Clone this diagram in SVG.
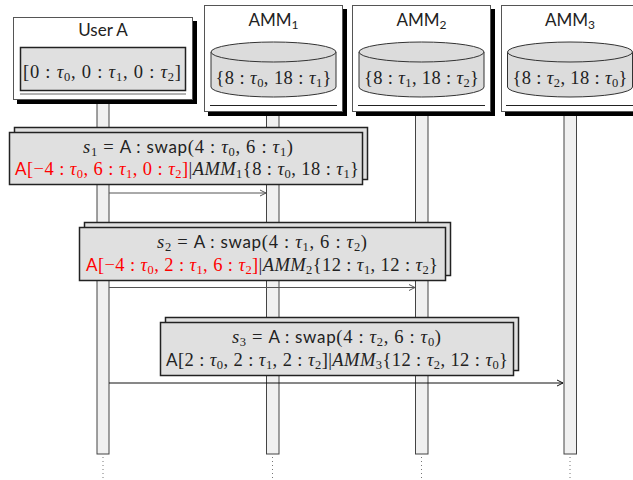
<svg xmlns="http://www.w3.org/2000/svg" width="633" height="480" viewBox="0 0 633 480">
<defs>
<marker id="arr" markerWidth="8" markerHeight="8" refX="7" refY="4" orient="auto" markerUnits="userSpaceOnUse">
<path d="M1,1 L7,4 L1,7" fill="none" stroke="context-stroke" stroke-width="1"/>
</marker>
</defs>
<style>
text{font-family:"Liberation Serif","Times New Roman",serif;font-size:18.5px;fill:#222}
.sf{font-family:Lato,"Open Sans",sans-serif;font-size:17px}
.i{font-style:italic}
.s{font-size:12.5px}
.red{fill:#f00}
.box{fill:#fff;stroke:#555;stroke-width:1}
.shadow{fill:#000}
.life{fill:#f0f0f0;stroke:#444;stroke-width:1}
.dots{stroke:#777;stroke-width:1;stroke-dasharray:1 3}
.msg{fill:#e0e0e0;stroke:#222;stroke-width:1.5}
.cyl{fill:#dcdcdc;stroke:#333;stroke-width:1}
.under{stroke:#222;stroke-width:1}
.conn{stroke:#555;stroke-width:1;fill:none;marker-end:url(#arr)}
.title{font-family:Lato,"Open Sans",sans-serif;font-size:17px;text-anchor:middle}
.title .s{font-size:12px}
</style>

<g id="lifelines">
<rect class="life" x="97" y="100" width="12" height="354"/>
<rect class="life" x="266.5" y="112" width="12.5" height="342"/>
<rect class="life" x="415.5" y="112" width="12.5" height="342"/>
<rect class="life" x="564" y="112" width="12.5" height="342"/>
<line class="dots" x1="103" y1="457" x2="103" y2="480"/>
<line class="dots" x1="272.5" y1="457" x2="272.5" y2="480"/>
<line class="dots" x1="421.5" y1="457" x2="421.5" y2="480"/>
<line class="dots" x1="570" y1="457" x2="570" y2="480"/>
</g>

<g id="userA">
<rect class="shadow" x="17" y="21" width="180" height="83"/>
<rect class="box" x="13.5" y="17.5" width="179" height="82"/>
<text class="title" x="103" y="36">User A</text>
<rect x="20.5" y="47.5" width="165" height="43" fill="#e0e0e0" stroke="#222" stroke-width="1.5"/>
<line x1="20" y1="94" x2="186" y2="94" stroke="#666" stroke-width="1"/>
<text x="102" y="78" text-anchor="middle" textLength="158">[0 : <tspan class="i">τ</tspan><tspan class="s" dy="3">0</tspan><tspan dy="-3">, 0 : </tspan><tspan class="i">τ</tspan><tspan class="s" dy="3">1</tspan><tspan dy="-3">, 0 : </tspan><tspan class="i">τ</tspan><tspan class="s" dy="3">2</tspan><tspan dy="-3">]</tspan></text>
</g>

<g id="amm1">
<rect class="shadow" x="208" y="9" width="139" height="107"/>
<rect class="box" x="204.5" y="5.5" width="138" height="106"/>
<text class="title" x="273.5" y="26">AMM<tspan class="s" dy="3">1</tspan></text>
<path class="cyl" d="M211,52 L211,87 A62.5,10 0 0 0 336,87 L336,52 Z"/>
<ellipse class="cyl" cx="273.5" cy="52" rx="62.5" ry="10"/>
<text x="273.5" y="84" text-anchor="middle" textLength="116">{8 : <tspan class="i">τ</tspan><tspan class="s" dy="3">0</tspan><tspan dy="-3">, 18 : </tspan><tspan class="i">τ</tspan><tspan class="s" dy="3">1</tspan><tspan dy="-3">}</tspan></text>
<line class="under" x1="210" y1="105.5" x2="337" y2="105.5"/>
</g>

<g id="amm2">
<rect class="shadow" x="356" y="9" width="139" height="107"/>
<rect class="box" x="352.5" y="5.5" width="138" height="106"/>
<text class="title" x="421.5" y="26">AMM<tspan class="s" dy="3">2</tspan></text>
<path class="cyl" d="M359,52 L359,87 A62.5,10 0 0 0 484,87 L484,52 Z"/>
<ellipse class="cyl" cx="421.5" cy="52" rx="62.5" ry="10"/>
<text x="421.5" y="84" text-anchor="middle" textLength="115">{8 : <tspan class="i">τ</tspan><tspan class="s" dy="3">1</tspan><tspan dy="-3">, 18 : </tspan><tspan class="i">τ</tspan><tspan class="s" dy="3">2</tspan><tspan dy="-3">}</tspan></text>
<line class="under" x1="358" y1="105.5" x2="485" y2="105.5"/>
</g>

<g id="amm3">
<rect class="shadow" x="505" y="9" width="139" height="107"/>
<rect class="box" x="501.5" y="5.5" width="138" height="106"/>
<text class="title" x="570" y="26">AMM<tspan class="s" dy="3">3</tspan></text>
<path class="cyl" d="M507.5,52 L507.5,87 A62.5,10 0 0 0 632.5,87 L632.5,52 Z"/>
<ellipse class="cyl" cx="570" cy="52" rx="62.5" ry="10"/>
<text x="570" y="84" text-anchor="middle" textLength="115">{8 : <tspan class="i">τ</tspan><tspan class="s" dy="3">2</tspan><tspan dy="-3">, 18 : </tspan><tspan class="i">τ</tspan><tspan class="s" dy="3">0</tspan><tspan dy="-3">}</tspan></text>
<line class="under" x1="506" y1="105.5" x2="633" y2="105.5"/>
</g>

<g id="connectors">
<line class="conn" x1="109" y1="193" x2="266" y2="193"/>
<line class="conn" x1="109" y1="287.5" x2="415" y2="287.5"/>
<line class="conn" x1="109" y1="383" x2="563" y2="383" style="stroke:#111"/>
</g>

<g id="step1">
<rect class="msg" x="14.5" y="127.5" width="353" height="52"/>
<rect class="msg" x="9.5" y="132.5" width="353" height="52"/>
<text x="188" y="153" text-anchor="middle" textLength="210"><tspan class="i">s</tspan><tspan class="s" dy="3">1</tspan><tspan dy="-3"> = </tspan><tspan class="sf">A : swap</tspan>(4 : <tspan class="i">τ</tspan><tspan class="s" dy="3">0</tspan><tspan dy="-3">, 6 : </tspan><tspan class="i">τ</tspan><tspan class="s" dy="3">1</tspan><tspan dy="-3">)</tspan></text>
<text x="187" y="175" text-anchor="middle" textLength="344"><tspan class="sf red">A</tspan><tspan class="red">[−4 : </tspan><tspan class="i red">τ</tspan><tspan class="s red" dy="3">0</tspan><tspan class="red" dy="-3">, 6 : </tspan><tspan class="i red">τ</tspan><tspan class="s red" dy="3">1</tspan><tspan class="red" dy="-3">, 0 : </tspan><tspan class="i red">τ</tspan><tspan class="s red" dy="3">2</tspan><tspan class="red" dy="-3">]</tspan>|<tspan class="i">AMM</tspan><tspan class="s" dy="3">1</tspan><tspan dy="-3">{8 : </tspan><tspan class="i">τ</tspan><tspan class="s" dy="3">0</tspan><tspan dy="-3">, 18 : </tspan><tspan class="i">τ</tspan><tspan class="s" dy="3">1</tspan><tspan dy="-3">}</tspan></text>
</g>

<g id="step2">
<rect class="msg" x="84.5" y="222.5" width="366" height="53"/>
<rect class="msg" x="79.5" y="227.5" width="366" height="53"/>
<text x="262" y="248" text-anchor="middle" textLength="210"><tspan class="i">s</tspan><tspan class="s" dy="3">2</tspan><tspan dy="-3"> = </tspan><tspan class="sf">A : swap</tspan>(4 : <tspan class="i">τ</tspan><tspan class="s" dy="3">1</tspan><tspan dy="-3">, 6 : </tspan><tspan class="i">τ</tspan><tspan class="s" dy="3">2</tspan><tspan dy="-3">)</tspan></text>
<text x="262" y="271" text-anchor="middle" textLength="352"><tspan class="sf red">A</tspan><tspan class="red">[−4 : </tspan><tspan class="i red">τ</tspan><tspan class="s red" dy="3">0</tspan><tspan class="red" dy="-3">, 2 : </tspan><tspan class="i red">τ</tspan><tspan class="s red" dy="3">1</tspan><tspan class="red" dy="-3">, 6 : </tspan><tspan class="i red">τ</tspan><tspan class="s red" dy="3">2</tspan><tspan class="red" dy="-3">]</tspan>|<tspan class="i">AMM</tspan><tspan class="s" dy="3">2</tspan><tspan dy="-3">{12 : </tspan><tspan class="i">τ</tspan><tspan class="s" dy="3">1</tspan><tspan dy="-3">, 12 : </tspan><tspan class="i">τ</tspan><tspan class="s" dy="3">2</tspan><tspan dy="-3">}</tspan></text>
</g>

<g id="step3">
<rect class="msg" x="165.5" y="317.5" width="353" height="53"/>
<rect class="msg" x="160.5" y="322.5" width="353" height="53"/>
<text x="336.5" y="343" text-anchor="middle" textLength="209"><tspan class="i">s</tspan><tspan class="s" dy="3">3</tspan><tspan dy="-3"> = </tspan><tspan class="sf">A : swap</tspan>(4 : <tspan class="i">τ</tspan><tspan class="s" dy="3">2</tspan><tspan dy="-3">, 6 : </tspan><tspan class="i">τ</tspan><tspan class="s" dy="3">0</tspan><tspan dy="-3">)</tspan></text>
<text x="337" y="366" text-anchor="middle" textLength="342"><tspan class="sf">A</tspan>[2 : <tspan class="i">τ</tspan><tspan class="s" dy="3">0</tspan><tspan dy="-3">, 2 : </tspan><tspan class="i">τ</tspan><tspan class="s" dy="3">1</tspan><tspan dy="-3">, 2 : </tspan><tspan class="i">τ</tspan><tspan class="s" dy="3">2</tspan><tspan dy="-3">]|</tspan><tspan class="i">AMM</tspan><tspan class="s" dy="3">3</tspan><tspan dy="-3">{12 : </tspan><tspan class="i">τ</tspan><tspan class="s" dy="3">2</tspan><tspan dy="-3">, 12 : </tspan><tspan class="i">τ</tspan><tspan class="s" dy="3">0</tspan><tspan dy="-3">}</tspan></text>
</g>
</svg>
